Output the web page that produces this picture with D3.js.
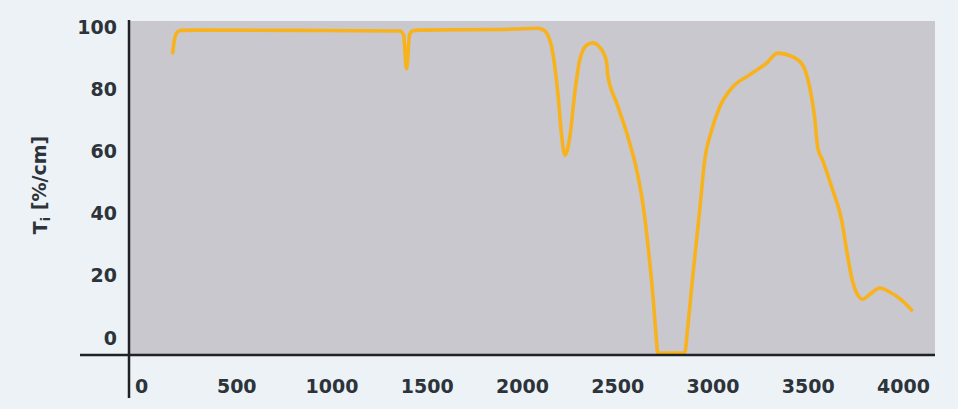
<!DOCTYPE html>
<html>
<head>
<meta charset="utf-8">
<script src="https://cdn.jsdelivr.net/npm/d3@7"></script>
<style>
  body { margin: 0; background: #edf2f7; }
  svg { display: block; }
</style>
</head>
<body>
<script>
// wavenumber-ish x values and transmission values
var xVals = [166, 176, 190, 210, 310, 834, 1360, 1378, 1394, 1410, 1428, 1464, 1883, 2041, 2078, 2108, 2130,
  2162, 2188, 2209, 2225, 2251, 2277, 2303, 2340, 2371, 2419, 2445, 2450, 2497, 2550, 2602, 2634, 2660,
  2686, 2707, 2712, 2854, 2870, 2896, 2933, 2959, 2996, 3038, 3106, 3195, 3284, 3342, 3421, 3473, 3510,
  3536, 3552, 3578, 3631, 3678, 3704, 3730, 3757, 3788, 3835, 3877, 3930, 3993, 4045];
var yVals = [91.7, 96.0, 98.3, 98.9, 99.0, 98.9, 98.7, 97.5, 86.5, 97.5, 98.8, 99.0, 99.2, 99.5, 99.6, 99.2, 98.0,
  91.6, 78.8, 64.6, 58.8, 64.6, 78.8, 89.4, 94.2, 94.9, 92.6, 88.4, 84.6, 75.6, 65.9, 54.0, 43.4, 30.5,
  14.5, -1.6, -4.8, -4.8, 3.5, 19.6, 41.2, 57.2, 66.9, 74.3, 80.7, 84.6, 88.4, 91.6, 90.4, 87.8, 80.7,
  71.1, 61.4, 57.2, 47.6, 37.9, 28.3, 19.6, 14.5, 12.5, 14.5, 16.1, 14.8, 12.2, 9.0];
var xTicks = [0, 500, 1000, 1500, 2000, 2500, 3000, 3500, 4000];
var yTicks = [0, 20, 40, 60, 80, 100];

var W = 958, H = 409;
var svg = d3.select("body").append("svg").attr("width", W).attr("height", H);

var x = d3.scaleLinear().domain([0, 4000]).range([141, 903]);
var y = d3.scaleLinear().domain([0, 100]).range([338, 27]);

// grey plot panel
svg.append("rect").attr("x", 130).attr("y", 21).attr("width", 805).attr("height", 333).style("fill", "#c9c8cf");

var pts = xVals.map(function(v, i){ return [v, yVals[i]]; });
var line = d3.line().x(function(d){ return x(d[0]); }).y(function(d){ return y(d[1]); }).curve(d3.curveMonotoneX);
svg.append("path").datum(pts).attr("d", line)
   .style("fill", "none").style("stroke", "#f7b21c").style("stroke-width", 3.6)
   .style("stroke-linejoin", "round").style("stroke-linecap", "round");

// axis lines
svg.append("line").attr("x1", 129).attr("x2", 129).attr("y1", 20).attr("y2", 398)
   .style("stroke", "#1e2226").style("stroke-width", 2.5);
svg.append("line").attr("x1", 80).attr("x2", 935).attr("y1", 355).attr("y2", 355)
   .style("stroke", "#1e2226").style("stroke-width", 2.5);

var lblFont = "'DejaVu Sans', sans-serif";

// tick labels via axes with no tick lines
var xAxis = svg.append("g").attr("transform", "translate(0,386)")
   .call(d3.axisBottom(x).tickValues(xTicks).tickSize(0).tickPadding(0).tickFormat(d3.format("d")));
xAxis.select(".domain").remove();
xAxis.selectAll("text").attr("dy", "0.35em")
   .style("font-family", lblFont).style("font-weight", "bold").style("font-size", "19px").style("fill", "#2c3439");

var yAxis = svg.append("g").attr("transform", "translate(117,0)")
   .call(d3.axisLeft(y).tickValues(yTicks).tickSize(0).tickPadding(0));
yAxis.select(".domain").remove();
yAxis.selectAll("text")
   .style("font-family", lblFont).style("font-weight", "bold").style("font-size", "19px").style("fill", "#2c3439");

// y title
var yt = svg.append("text").attr("transform", "translate(47,185) rotate(-90)")
   .attr("text-anchor", "middle")
   .style("font-family", lblFont).style("font-weight", "bold").style("font-size", "19px").style("fill", "#2c3439");
yt.append("tspan").text("T");
yt.append("tspan").attr("dy", "0.25em").style("font-size", "13px").text("i");
yt.append("tspan").attr("dy", "-0.25em").text(" [%/cm]");
</script>
</body>
</html>
